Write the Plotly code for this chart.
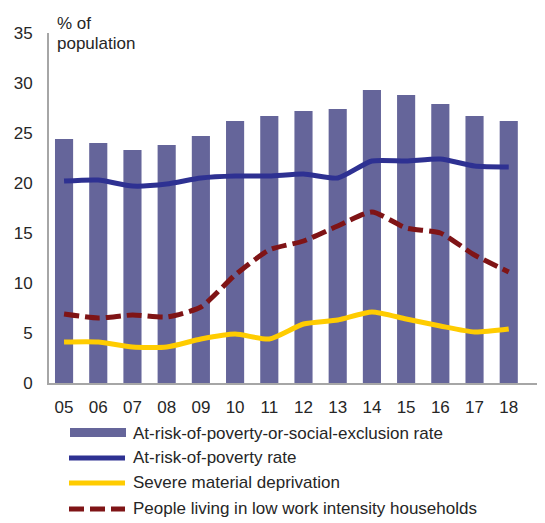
import plotly.graph_objects as go

years = ["05", "06", "07", "08", "09", "10", "11", "12", "13", "14", "15", "16", "17", "18"]
arope = [24.4, 24.0, 23.3, 23.8, 24.7, 26.2, 26.7, 27.2, 27.4, 29.3, 28.8, 27.9, 26.7, 26.2]
arop = [20.2, 20.3, 19.7, 19.9, 20.5, 20.7, 20.7, 20.9, 20.5, 22.2, 22.2, 22.4, 21.7, 21.6]
smd = [4.1, 4.1, 3.6, 3.6, 4.4, 4.9, 4.4, 5.9, 6.3, 7.1, 6.4, 5.7, 5.1, 5.4]
lwi = [6.9, 6.5, 6.8, 6.6, 7.6, 10.8, 13.3, 14.2, 15.7, 17.1, 15.5, 15.0, 12.8, 11.1]
y_ticks = [0, 5, 10, 15, 20, 25, 30, 35]
series_names = ["At-risk-of-poverty-or-social-exclusion rate", "At-risk-of-poverty rate",
                "Severe material deprivation", "People living in low work intensity households"]
series_colors = ["#65659a", "#2e3192", "#ffcc00", "#7f1416"]

FONT = "Liberation Sans, Arial, sans-serif"
TXT = "#262626"
FS = 17
DASH = "15px,6px"

fig = go.Figure()
fig.add_trace(go.Bar(x=years, y=arope, name=series_names[0],
                     marker=dict(color=series_colors[0], line=dict(width=0))))
fig.add_trace(go.Scatter(x=years, y=arop, name=series_names[1], mode="lines",
                         line=dict(color=series_colors[1], width=5, shape="spline", smoothing=0.6)))
fig.add_trace(go.Scatter(x=years, y=smd, name=series_names[2], mode="lines",
                         line=dict(color=series_colors[2], width=5, shape="spline", smoothing=0.6)))
fig.add_trace(go.Scatter(x=years, y=lwi, name=series_names[3], mode="lines",
                         line=dict(color=series_colors[3], width=5, dash=DASH, shape="spline", smoothing=0.6)))

# manual legend (paper coordinates) to mimic the wide legend keys
W, H = 537, 515
ML, MT, MB = 41, 25, 140
pw, ph = W - ML, H - MT - MB


def px(X):
    return (X - 8 - ML) / pw


def py(Y):
    return (H - MB - (Y - 8)) / ph


rows = [433, 458, 483, 509]
shapes = []
annotations = []
shapes.append(dict(type="rect", xref="paper", yref="paper", x0=px(70), x1=px(126),
                   y0=py(437), y1=py(428), fillcolor=series_colors[0], line=dict(width=0)))
for i in (1, 2, 3):
    shapes.append(dict(type="line", xref="paper", yref="paper", x0=px(69), x1=px(125),
                       y0=py(rows[i]), y1=py(rows[i]),
                       line=dict(color=series_colors[i], width=5, dash=DASH if i == 3 else "solid")))
for i, name in enumerate(series_names):
    annotations.append(dict(text=name, xref="paper", yref="paper", x=px(131), y=py(rows[i]),
                            xanchor="left", yanchor="middle", showarrow=False,
                            font=dict(size=FS, color=TXT)))
annotations.append(dict(text="% of", xref="paper", yref="paper", x=px(55), y=py(24),
                        xanchor="left", yanchor="middle", showarrow=False, font=dict(size=FS, color=TXT)))
annotations.append(dict(text="population", xref="paper", yref="paper", x=px(55), y=py(43),
                        xanchor="left", yanchor="middle", showarrow=False, font=dict(size=FS, color=TXT)))

fig.update_layout(
    width=W, height=H,
    margin=dict(l=ML, r=0, t=MT, b=MB, pad=0),
    paper_bgcolor="white", plot_bgcolor="white",
    font=dict(family=FONT, size=FS, color=TXT),
    bargap=0.47,
    showlegend=False,
    xaxis=dict(type="category", range=[-0.44, 14.06], showline=True, linecolor="#a6a6a6",
               linewidth=2, ticks="", showgrid=False, tickfont=dict(size=FS, color=TXT),
               ticklabelstandoff=8),
    yaxis=dict(range=[0, 35], tickvals=y_ticks, showline=True, linecolor="#a6a6a6",
               linewidth=2, ticks="", showgrid=False, zeroline=False,
               tickfont=dict(size=FS, color=TXT), ticklabelstandoff=11),
    shapes=shapes,
    annotations=annotations,
)

fig.write_html("out.html")
